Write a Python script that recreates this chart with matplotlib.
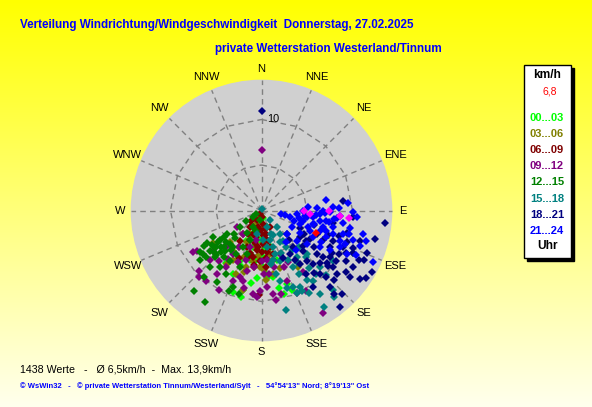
import numpy as np
import matplotlib
matplotlib.use("Agg")
import matplotlib.pyplot as plt
from matplotlib.patches import Circle, Rectangle

plt.rcParams['font.family'] = ['Liberation Sans', 'DejaVu Sans']

W, H = 592, 407

# compass labels (16 directions) and the speed rings of the chart
compass = ["N", "NNE", "NE", "ENE", "E", "ESE", "SE", "SSE",
           "S", "SSW", "SW", "WSW", "W", "WNW", "NW", "NNW"]
rings = [5, 10]
ring_label = "10"
speed_max = 14.3

# wind readings per time slot: direction in degrees, speed in km/h
dir_00_03 = [193, 199, 193, 184, 176, 170, 167, 161, 159, 165, 193, 183, 207, 203, 193, 163, 166, 207, 171, 163,
             204, 178, 203, 165, 214, 175, 186, 195, 180, 175, 188, 200]
spd_00_03 = [9.8, 9.5, 9.0, 7.4, 7.0, 7.4, 8.7, 8.5, 9.4, 9.5, 4.1, 3.3, 3.7, 6.0, 5.6, 1.9, 0.8, 1.2, 5.6, 5.7,
             7.6, 6.2, 2.8, 4.2, 6.9, 4.1, 5.5, 4.8, 5.0, 7.5, 8.0, 6.5]

dir_03_06 = [236, 225, 193, 202, 211, 207, 201, 194, 174, 171, 169, 182, 190, 195, 176, 170, 162, 188, 201, 210,
             213, 147, 205, 185, 215, 178, 196]
spd_03_06 = [6.4, 4.9, 9.0, 7.5, 4.7, 2.9, 1.6, 0.8, 1.8, 3.3, 4.9, 6.2, 5.6, 6.4, 7.7, 7.1, 6.6, 4.1, 5.5, 6.3,
             7.0, 7.4, 3.8, 5.0, 5.5, 6.5, 7.0]

dir_06_09 = [207, 180, 207, 173, 207, 185, 168, 191, 201, 177, 167, 187, 202, 190, 174, 218, 216, 182, 165, 188,
             182, 175, 215, 173, 153, 225, 191, 170, 192, 168, 180, 196, 167, 200, 185, 195, 178, 210, 188, 172, 205]
spd_06_09 = [0.4, 0.7, 1.2, 1.5, 2.0, 2.2, 2.6, 3.0, 3.5, 3.7, 4.1, 4.4, 4.3, 5.2, 5.2, 3.3, 4.1, 5.5, 4.9, 6.3,
             9.3, 6.2, 2.2, 3.0, 2.0, 1.6, 1.9, 2.1, 3.6, 3.4, 4.6, 5.3, 5.6, 2.8, 4.0, 4.8, 2.6, 3.0, 6.0, 4.6, 5.8]

dir_09_12 = [0, 239, 226, 218, 215, 226, 212, 202, 198, 194, 186, 181, 176, 172, 171, 160, 157, 151, 149, 236,
             218, 198, 190, 174, 168, 197, 188, 213, 224, 220, 211, 157, 158, 208, 223, 183, 173, 193, 167, 180,
             238, 146, 153, 205, 195, 178, 230, 215]
spd_09_12 = [6.6, 8.8, 9.6, 9.9, 8.5, 7.9, 7.3, 8.3, 7.7, 6.8, 9.2, 8.8, 8.4, 9.3, 10.0, 8.2, 9.9, 10.1, 13.1, 3.3,
             3.3, 4.2, 3.3, 5.5, 6.4, 5.7, 6.3, 5.7, 5.6, 7.2, 4.7, 5.2, 6.7, 9.9, 10.0, 9.5, 7.0, 8.7, 9.4, 5.5,
             8.4, 8.2, 6.4, 6.2, 8.0, 7.0, 7.0, 6.5]

dir_12_15 = [220, 212, 239, 231, 232, 231, 226, 223, 230, 232, 236, 231, 236, 225, 219, 212, 210, 207, 201, 216,
             209, 222, 221, 212, 200, 195, 213, 207, 241, 234, 236, 218, 201, 199, 194, 190, 236, 202, 234, 235,
             230, 228, 224, 228, 226, 232, 229, 235, 222, 238, 233, 217, 224]
spd_12_15 = [11.6, 11.8, 7.0, 8.7, 7.2, 6.4, 5.8, 5.1, 4.0, 3.0, 2.0, 1.2, 0.7, 7.3, 6.6, 6.5, 5.5, 4.5, 3.5, 7.7,
             8.0, 8.4, 9.7, 9.3, 9.0, 9.5, 3.0, 2.0, 6.1, 5.6, 4.6, 5.1, 6.7, 5.0, 2.3, 1.1, 8.2, 9.5, 5.9, 6.7,
             7.9, 6.9, 6.4, 6.0, 7.0, 6.6, 5.2, 5.0, 6.0, 7.4, 8.0, 5.5, 4.2]

dir_15_18 = [10, 140, 138, 142, 144, 146, 155, 152, 151, 149, 147, 153, 144, 145, 140, 147, 166, 167, 167, 172,
             157, 143, 143, 140, 134, 138, 153, 162, 165, 162, 163, 136, 158, 157, 139, 115, 125, 134, 134, 160,
             192, 177, 165, 163, 150, 155, 170, 145, 150, 135]
spd_15_18 = [0.2, 1.4, 2.5, 3.3, 4.1, 4.9, 5.2, 6.2, 7.1, 8.1, 9.1, 9.9, 9.6, 11.2, 12.4, 12.7, 11.3, 7.2, 5.6, 4.1,
             2.8, 5.5, 6.4, 8.2, 8.9, 11.8, 9.4, 8.9, 8.0, 4.2, 1.9, 7.1, 9.1, 9.9, 9.2, 11.1, 9.6, 6.9, 5.8, 5.9,
             2.6, 3.3, 3.4, 5.0, 4.0, 3.0, 6.0, 7.0, 10.5, 10.0]

dir_18_21 = [0, 83, 96, 104, 119, 123, 125, 127, 141, 139, 138, 136, 122, 116, 121, 128, 136, 137, 136, 138,
             128, 124, 119, 112, 107, 105, 113, 116, 125, 134, 139, 133, 137, 125, 124, 113, 118, 124, 114, 134,
             115, 112, 145, 146, 132, 144, 146, 155, 147, 130, 129, 94, 114, 105, 110, 120, 108, 100, 117, 130, 127,
             110, 121, 126, 117, 130, 119, 140]
spd_18_21 = [10.9, 9.0, 13.6, 12.8, 13.9, 13.7, 13.2, 12.2, 13.7, 12.1, 11.3, 12.8, 11.8, 12.5, 10.8, 10.0, 10.2, 9.5, 8.2, 7.4,
             7.7, 9.1, 9.8, 10.9, 11.3, 9.7, 8.5, 7.5, 7.0, 6.4, 5.3, 3.8, 4.5, 5.1, 5.9, 6.6, 8.5, 9.9, 9.8, 11.0,
             11.1, 12.5, 8.5, 10.2, 8.7, 7.2, 6.6, 5.7, 5.7, 10.8, 9.2, 10.1, 4.6, 6.0, 7.8, 6.2, 9.0, 8.0, 10.4, 6.0, 8.4,
             10.0, 9.0, 11.5, 12.0, 9.5, 5.3, 9.0]

dir_21_24 = [81, 87, 87, 90, 95, 103, 102, 98, 93, 91, 94, 91, 94, 101, 106, 103, 99, 105, 109, 119,
             133, 121, 117, 112, 111, 108, 110, 115, 117, 115, 120, 122, 127, 131, 113, 109, 108, 105, 97, 108,
             104, 105, 115, 103, 106, 96, 99, 142, 139, 100, 86, 95, 100, 92, 97, 88, 110, 102, 85,
             95, 100, 104, 112, 108, 118, 90, 97]
spd_21_24 = [7.2, 7.9, 6.1, 4.6, 3.9, 3.2, 2.6, 5.0, 6.4, 7.5, 8.6, 10.1, 10.5, 9.9, 9.3, 8.1, 7.2, 5.9, 4.5, 3.8,
             3.8, 4.9, 6.4, 7.7, 9.2, 10.6, 11.5, 11.5, 10.5, 9.5, 8.7, 7.6, 6.2, 5.1, 5.8, 6.8, 8.3, 10.0, 5.7, 3.7,
             4.7, 7.0, 13.5, 11.5, 12.0, 8.3, 9.1, 4.4, 5.8, 2.2, 5.1, 5.5, 6.5, 7.0, 8.0, 8.5, 5.4, 4.2, 9.5,
             6.0, 7.5, 6.0, 9.9, 7.4, 7.4, 6.8, 4.8]

# last readings (magenta) and current value (red)
dir_last = [91, 94, 90, 94, 95]
spd_last = [4.7, 5.3, 7.4, 8.6, 9.6]
dir_now = [112]
spd_now = [6.5]

slot_labels = ["00...03", "03...06", "06...09", "09...12", "12...15", "15...18", "18...21", "21...24"]
slot_colors = ["#00ff00", "#808000", "#800000", "#800080", "#008000", "#008080", "#000080", "#0000ff"]
slot_dirs = [dir_00_03, dir_03_06, dir_06_09, dir_09_12, dir_12_15, dir_15_18, dir_18_21, dir_21_24]
slot_spds = [spd_00_03, spd_03_06, spd_06_09, spd_09_12, spd_12_15, spd_15_18, spd_18_21, spd_21_24]

unit_label = "km/h"
current_label = "6,8"
title1 = "Verteilung Windrichtung/Windgeschwindigkeit  Donnerstag, 27.02.2025"
title2 = "private Wetterstation Westerland/Tinnum"
stats = "1438 Werte   -   Ø 6,5km/h  -  Max. 13,9km/h"
footer = "© WsWin32   -   © private Wetterstation Tinnum/Westerland/Sylt   -   54°54'13\" Nord; 8°19'13\" Ost"


def to_xy(d, s):
    a = np.radians(np.asarray(d, dtype=float))
    s = np.asarray(s, dtype=float)
    return s * np.sin(a), s * np.cos(a)


def fx(px):
    return px / W


def fy(py):
    return 1 - py / H


fig = plt.figure(figsize=(W / 100, H / 100), dpi=100)

# yellow gradient background
bg = fig.add_axes([0, 0, 1, 1], zorder=0)
grad = np.zeros((256, 1, 3))
grad[..., 0] = 1
grad[..., 1] = 1
grad[..., 2] = np.linspace(0, 0.93, 256)[:, None]
bg.imshow(grad, aspect='auto', extent=[0, 1, 0, 1])
bg.axis('off')

# wind rose axes, 9.1 px per km/h, centre at (261.5, 210.5)
cx, cy, scale = 261.5, 210.5, 9.1
ax = fig.add_axes([0, 0, 1, 1], zorder=1)
ax.patch.set_visible(False)
ax.set_xlim(-cx / scale, (W - cx) / scale)
ax.set_ylim(-(H - cy) / scale, cy / scale)
ax.axis('off')

ax.add_patch(Circle((0, 0), speed_max, color='#d0d0d0', zorder=1))
grid_kw = dict(color='#808080', lw=1, ls=(0, (4, 3)), zorder=2)
angles = np.arange(0, 360, 22.5)
for a in angles:
    x, y = to_xy([0, a], [0, speed_max])
    ax.plot([0, x[1]], [0, y[1]], **grid_kw)
for r in rings:
    x, y = to_xy(np.append(angles, 360), [r] * 17)
    ax.plot(x, y, **grid_kw)
ax.text(0.6, 10.0, ring_label, fontsize=7.8, ha='left', va='center', zorder=3)

for lab, a in zip(compass, angles):
    r = 15.5 if len(lab) == 1 else 15.9
    x, y = to_xy([a], [r])
    ax.text(x[0], y[0], lab, fontsize=8, ha='center', va='center')

ms = 3.7
for d, s, c in zip(slot_dirs, slot_spds, slot_colors):
    x, y = to_xy(d, s)
    ax.plot(x, y, ls='none', marker='D', ms=ms, mew=0, color=c, zorder=4)
x, y = to_xy(dir_last, spd_last)
ax.plot(x, y, ls='none', marker='D', ms=ms, mew=0, color='#ff00ff', zorder=5)
x, y = to_xy(dir_now, spd_now)
ax.plot(x, y, ls='none', marker='D', ms=ms, mew=0, color='#ff0000', zorder=6)

# titles
fig.text(fx(20), fy(25), title1, color='#0000ff', fontsize=8.4, fontweight='bold', va='center')
fig.text(fx(215), fy(49), title2, color='#0000ff', fontsize=8.4, fontweight='bold', va='center')
fig.text(fx(20), fy(369), stats, color='black', fontsize=7.7, va='center')
fig.text(fx(20), fy(386), footer, color='#0000ff', fontsize=5.5, fontweight='bold', va='center')

# legend box with shadow
fig.add_artist(Rectangle((fx(527), fy(261)), (571 - 524) / W, (258 - 65) / H,
                         transform=fig.transFigure, color='black', zorder=2))
fig.add_artist(Rectangle((fx(524), fy(258)), (571 - 524) / W, (258 - 65) / H,
                         transform=fig.transFigure, facecolor='white', edgecolor='black', lw=1, zorder=3))
lx = fx(547)
fig.text(lx, fy(75), unit_label, fontsize=8.6, fontweight='bold', ha='center', va='center', zorder=4)
fig.text(fx(550), fy(92), current_label, fontsize=7.5, color='red', ha='center', va='center', zorder=4)
for i, (lab, c) in enumerate(zip(slot_labels, slot_colors)):
    fig.text(lx, fy(118 + i * 16.1), lab, fontsize=8, fontweight='bold', color=c,
             ha='center', va='center', zorder=4)
fig.text(lx, fy(246), "Uhr", fontsize=8.6, fontweight='bold', ha='center', va='center', zorder=4)

fig.savefig("out.png", dpi=100)
